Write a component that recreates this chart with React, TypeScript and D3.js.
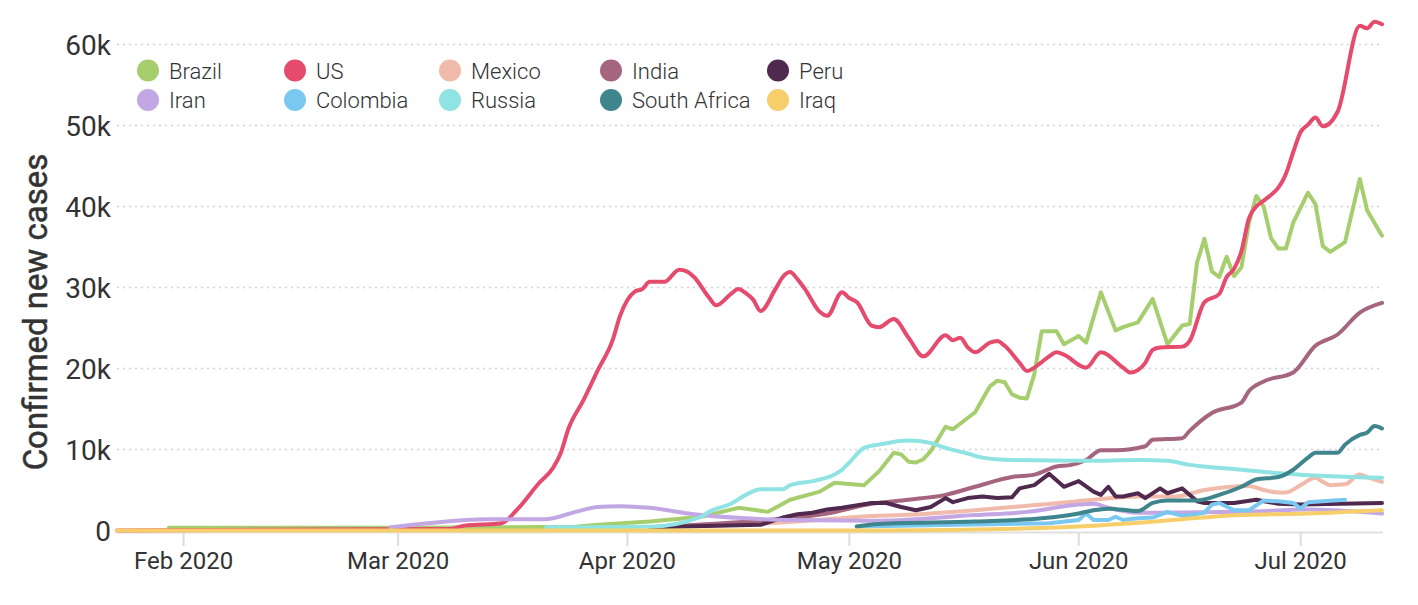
import React, { useRef, useEffect } from 'react';
import * as d3 from 'd3';

type Point = [string, number];

const countries = ['Brazil', 'US', 'Mexico', 'India', 'Peru', 'Iran', 'Colombia', 'Russia', 'South Africa', 'Iraq'];

const brazil: Point[] = [
    ['2020-01-30', 350], ['2020-03-01', 350], ['2020-03-25', 450], ['2020-03-28', 700], ['2020-04-04', 1100],
    ['2020-04-11', 1700], ['2020-04-16', 2800], ['2020-04-20', 2300], ['2020-04-23', 3800], ['2020-04-27', 4800],
    ['2020-04-29', 5900], ['2020-05-03', 5600], ['2020-05-05', 7300], ['2020-05-07', 9600], ['2020-05-08', 9400],
    ['2020-05-09', 8500], ['2020-05-10', 8400], ['2020-05-11', 8800], ['2020-05-12', 9800], ['2020-05-13', 11300],
    ['2020-05-14', 12800], ['2020-05-15', 12500], ['2020-05-18', 14600], ['2020-05-20', 17800], ['2020-05-21', 18500],
    ['2020-05-22', 18300], ['2020-05-23', 16800], ['2020-05-24', 16400], ['2020-05-25', 16300], ['2020-05-26', 19300],
    ['2020-05-27', 24600], ['2020-05-29', 24600], ['2020-05-30', 23000], ['2020-06-01', 24000], ['2020-06-02', 23200],
    ['2020-06-04', 29400], ['2020-06-06', 24700], ['2020-06-07', 25100], ['2020-06-09', 25700], ['2020-06-11', 28600],
    ['2020-06-13', 23000], ['2020-06-15', 25300], ['2020-06-16', 25500], ['2020-06-17', 33100], ['2020-06-18', 36000],
    ['2020-06-19', 32000], ['2020-06-20', 31300], ['2020-06-21', 33800], ['2020-06-22', 31400], ['2020-06-23', 32500],
    ['2020-06-24', 37900], ['2020-06-25', 41300], ['2020-06-26', 40000], ['2020-06-27', 36100], ['2020-06-28', 34800],
    ['2020-06-29', 34800], ['2020-06-30', 38000], ['2020-07-02', 41700], ['2020-07-03', 40300], ['2020-07-04', 35100],
    ['2020-07-05', 34400], ['2020-07-07', 35600], ['2020-07-09', 43400], ['2020-07-10', 39500], ['2020-07-12', 36400],
];

const us: Point[] = [
    ['2020-01-23', 0], ['2020-03-08', 200], ['2020-03-10', 600], ['2020-03-15', 900], ['2020-03-17', 2500],
    ['2020-03-20', 5800], ['2020-03-22', 7800], ['2020-03-23', 9600], ['2020-03-24', 12500], ['2020-03-26', 16000],
    ['2020-03-28', 19800], ['2020-03-30', 23500], ['2020-03-31', 26500], ['2020-04-02', 29500], ['2020-04-03', 29800],
    ['2020-04-04', 30700], ['2020-04-06', 30700], ['2020-04-08', 32200], ['2020-04-09', 32000], ['2020-04-10', 31300],
    ['2020-04-12', 28800], ['2020-04-13', 27800], ['2020-04-15', 29200], ['2020-04-16', 29800], ['2020-04-17', 29300],
    ['2020-04-18', 28500], ['2020-04-19', 27100], ['2020-04-21', 29800], ['2020-04-22', 31300], ['2020-04-23', 31900],
    ['2020-04-24', 31000], ['2020-04-25', 29800], ['2020-04-27', 27000], ['2020-04-28', 26500], ['2020-04-30', 29400],
    ['2020-05-01', 28700], ['2020-05-02', 28200], ['2020-05-04', 25300], ['2020-05-05', 25100], ['2020-05-07', 26100],
    ['2020-05-09', 23800], ['2020-05-11', 21500], ['2020-05-14', 24100], ['2020-05-15', 23500], ['2020-05-16', 23800],
    ['2020-05-17', 22600], ['2020-05-18', 22000], ['2020-05-20', 23200], ['2020-05-21', 23400], ['2020-05-22', 22800],
    ['2020-05-24', 20700], ['2020-05-25', 19700], ['2020-05-27', 20800], ['2020-05-28', 21500], ['2020-05-29', 22000],
    ['2020-05-30', 21700], ['2020-06-02', 20100], ['2020-06-04', 22000], ['2020-06-07', 20100], ['2020-06-08', 19500],
    ['2020-06-09', 19800], ['2020-06-10', 20700], ['2020-06-11', 22300], ['2020-06-12', 22600], ['2020-06-15', 22700],
    ['2020-06-16', 23400], ['2020-06-18', 28200], ['2020-06-20', 29200], ['2020-06-21', 31300], ['2020-06-22', 32300],
    ['2020-06-23', 34500], ['2020-06-24', 38500], ['2020-06-25', 40000], ['2020-06-26', 40700], ['2020-06-29', 44000],
    ['2020-06-30', 46700], ['2020-07-01', 49200], ['2020-07-02', 50100], ['2020-07-03', 51000], ['2020-07-04', 49900],
    ['2020-07-06', 51700], ['2020-07-09', 62300], ['2020-07-10', 62000], ['2020-07-11', 62800], ['2020-07-12', 62500],
];

const mexico: Point[] = [
    ['2020-04-04', 400], ['2020-04-20', 900], ['2020-04-28', 1400], ['2020-05-04', 1800], ['2020-05-08', 1900],
    ['2020-05-18', 2500], ['2020-05-27', 3200], ['2020-06-03', 3800], ['2020-06-09', 4200], ['2020-06-14', 4200],
    ['2020-06-18', 5000], ['2020-06-24', 5500], ['2020-06-26', 5000], ['2020-06-28', 4700], ['2020-06-29', 4700],
    ['2020-07-01', 5600], ['2020-07-03', 6500], ['2020-07-04', 6000], ['2020-07-05', 5600], ['2020-07-07', 5700],
    ['2020-07-09', 6900], ['2020-07-10', 6600], ['2020-07-12', 6000],
];

const india: Point[] = [
    ['2020-04-04', 400], ['2020-04-20', 1300], ['2020-04-28', 2100], ['2020-05-04', 3300], ['2020-05-09', 3800],
    ['2020-05-14', 4400], ['2020-05-18', 5400], ['2020-05-23', 6600], ['2020-05-26', 6900], ['2020-05-29', 7900],
    ['2020-05-31', 8100], ['2020-06-02', 8700], ['2020-06-04', 9900], ['2020-06-06', 9900], ['2020-06-10', 10400],
    ['2020-06-11', 11200], ['2020-06-15', 11400], ['2020-06-16', 12300], ['2020-06-19', 14500], ['2020-06-23', 15800],
    ['2020-06-24', 17200], ['2020-06-26', 18400], ['2020-06-30', 19500], ['2020-07-03', 22800], ['2020-07-06', 24200],
    ['2020-07-09', 26900], ['2020-07-12', 28100],
];

const peru: Point[] = [
    ['2020-04-04', 400], ['2020-04-19', 700], ['2020-04-22', 1600], ['2020-04-24', 2000], ['2020-04-26', 2200],
    ['2020-04-28', 2600], ['2020-04-30', 2800], ['2020-05-04', 3400], ['2020-05-06', 3400], ['2020-05-08', 2900],
    ['2020-05-10', 2500], ['2020-05-12', 2900], ['2020-05-14', 4000], ['2020-05-15', 3500], ['2020-05-17', 4000],
    ['2020-05-19', 4200], ['2020-05-21', 4000], ['2020-05-23', 4100], ['2020-05-24', 5200], ['2020-05-26', 5600],
    ['2020-05-28', 7000], ['2020-05-30', 5400], ['2020-06-01', 6100], ['2020-06-03', 4800], ['2020-06-04', 4400],
    ['2020-06-05', 5400], ['2020-06-06', 4200], ['2020-06-07', 4200], ['2020-06-09', 4600], ['2020-06-10', 4000],
    ['2020-06-12', 5200], ['2020-06-13', 4600], ['2020-06-15', 5200], ['2020-06-17', 3600], ['2020-06-18', 3400],
    ['2020-06-22', 3400], ['2020-06-25', 3800], ['2020-06-28', 3300], ['2020-07-01', 3200], ['2020-07-12', 3400],
];

const iran: Point[] = [
    ['2020-02-29', 400], ['2020-03-05', 900], ['2020-03-13', 1400], ['2020-03-21', 1400], ['2020-03-25', 2300],
    ['2020-03-28', 2900], ['2020-03-31', 3000], ['2020-04-04', 2800], ['2020-04-10', 2000], ['2020-04-17', 1500],
    ['2020-04-23', 1300], ['2020-05-05', 1200], ['2020-05-18', 1900], ['2020-05-25', 2300], ['2020-06-01', 3200],
    ['2020-06-03', 3300], ['2020-06-05', 2800], ['2020-06-09', 2200], ['2020-06-23', 2300], ['2020-07-02', 2600],
    ['2020-07-12', 2100],
];

const colombia: Point[] = [
    ['2020-05-02', 500], ['2020-05-28', 900], ['2020-06-01', 1300], ['2020-06-02', 2100], ['2020-06-03', 1300],
    ['2020-06-05', 1300], ['2020-06-06', 1700], ['2020-06-07', 1300], ['2020-06-09', 1500], ['2020-06-11', 1600],
    ['2020-06-13', 2300], ['2020-06-15', 1800], ['2020-06-16', 1900], ['2020-06-18', 2200], ['2020-06-19', 3200],
    ['2020-06-20', 3400], ['2020-06-22', 2500], ['2020-06-24', 2500], ['2020-06-26', 3700], ['2020-06-28', 3600],
    ['2020-06-30', 3400], ['2020-07-01', 2700], ['2020-07-02', 3500], ['2020-07-07', 3800],
];

const russia: Point[] = [
    ['2020-03-21', 400], ['2020-04-04', 450], ['2020-04-11', 1700], ['2020-04-12', 2300], ['2020-04-15', 3300],
    ['2020-04-17', 4400], ['2020-04-19', 5100], ['2020-04-22', 5100], ['2020-04-23', 5600], ['2020-04-26', 6100],
    ['2020-04-29', 6900], ['2020-04-30', 7500], ['2020-05-01', 8400], ['2020-05-03', 10200], ['2020-05-05', 10600],
    ['2020-05-09', 11100], ['2020-05-12', 10800], ['2020-05-14', 10200], ['2020-05-17', 9500], ['2020-05-19', 9000],
    ['2020-05-23', 8700], ['2020-06-02', 8600], ['2020-06-09', 8700], ['2020-06-13', 8600], ['2020-06-16', 8100],
    ['2020-06-18', 7900], ['2020-06-23', 7500], ['2020-06-29', 7000], ['2020-07-12', 6500],
];

const southAfrica: Point[] = [
    ['2020-05-02', 500], ['2020-05-05', 800], ['2020-05-18', 1100], ['2020-05-27', 1500], ['2020-06-01', 2100],
    ['2020-06-03', 2500], ['2020-06-05', 2700], ['2020-06-09', 2400], ['2020-06-11', 3400], ['2020-06-13', 3700],
    ['2020-06-17', 3700], ['2020-06-20', 4400], ['2020-06-23', 5400], ['2020-06-25', 6300], ['2020-06-28', 6600],
    ['2020-06-30', 7500], ['2020-07-02', 9000], ['2020-07-03', 9600], ['2020-07-06', 9600], ['2020-07-07', 10600],
    ['2020-07-09', 11800], ['2020-07-10', 12100], ['2020-07-11', 12900], ['2020-07-12', 12600],
];

const iraq: Point[] = [
    ['2020-01-23', 0], ['2020-05-05', 0], ['2020-05-27', 300], ['2020-06-01', 500], ['2020-06-09', 950],
    ['2020-06-23', 1900], ['2020-07-02', 2100], ['2020-07-12', 2500],
];

const seriesValues = [brazil, us, mexico, india, peru, iran, colombia, russia, southAfrica, iraq];

const yTicks = [0, 10000, 20000, 30000, 40000, 50000, 60000];
const yTickLabels = ['0', '10k', '20k', '30k', '40k', '50k', '60k'];
const monthTicks = ['2020-02-01', '2020-03-01', '2020-04-01', '2020-05-01', '2020-06-01', '2020-07-01'];
const monthLabels = ['Feb 2020', 'Mar 2020', 'Apr 2020', 'May 2020', 'Jun 2020', 'Jul 2020'];
const dateRange = ['2020-01-23', '2020-07-12'];

const palette = ['#a7ce6e', '#e54b6d', '#f0bbab', '#a6657f', '#50294f', '#c3a7e4', '#7ac8f1', '#8fe3e2', '#3e858d', '#f6cf6b'];
// jagged series are drawn straight, the rest smoothed
const jagged = [true, false, false, false, true, false, true, false, false, false];
const legendColumnX = [148, 295, 450, 611, 778];

const ChartSvg: React.FC = () => {
    const svgRef = useRef<SVGSVGElement | null>(null);
    const width = 1418;
    const height = 605;
    const font = 'Roboto, "Noto Sans", sans-serif';

    useEffect(() => {
        if (!svgRef.current) return;
        const svg = d3.select(svgRef.current);
        svg.selectAll('*').remove();

        const parse = d3.timeParse('%Y-%m-%d');
        const x = d3.scaleTime()
            .domain(dateRange.map(d => parse(d) as Date))
            .range([117, 1382]);
        const y = d3.scaleLinear()
            .domain([0, 60000])
            .range([530.5, 44.5]);

        svg.append('rect').attr('width', width).attr('height', height).attr('fill', '#fff');

        // dotted grid
        svg.append('g')
            .selectAll('line')
            .data(yTicks.filter(t => t > 0))
            .join('line')
            .attr('x1', 117)
            .attr('x2', 1383)
            .attr('y1', d => y(d))
            .attr('y2', d => y(d))
            .attr('stroke', '#d4d4d4')
            .attr('stroke-width', 1.5)
            .attr('stroke-dasharray', '2,4');

        // y labels
        svg.append('g')
            .selectAll('text')
            .data(yTicks)
            .join('text')
            .attr('x', 111)
            .attr('y', d => y(d) + 10)
            .attr('text-anchor', 'end')
            .attr('font-family', font)
            .attr('font-size', 28)
            .attr('fill', '#333')
            .text((d, i) => yTickLabels[i]);

        // x axis baseline and ticks
        svg.append('line')
            .attr('x1', 117).attr('x2', 1383)
            .attr('y1', 532.5).attr('y2', 532.5)
            .attr('stroke', '#e0e0e0').attr('stroke-width', 2);

        const months = monthTicks.map(d => parse(d) as Date);
        svg.append('g')
            .selectAll('line')
            .data(months)
            .join('line')
            .attr('x1', d => x(d)).attr('x2', d => x(d))
            .attr('y1', 533).attr('y2', 546)
            .attr('stroke', '#dcdcdc').attr('stroke-width', 2);

        svg.append('g')
            .selectAll('text')
            .data(months)
            .join('text')
            .attr('x', d => x(d))
            .attr('y', 569)
            .attr('text-anchor', 'middle')
            .attr('font-family', font)
            .attr('font-size', 24)
            .attr('fill', '#333')
            .text((d, i) => monthLabels[i]);

        // y title
        svg.append('text')
            .attr('transform', 'translate(47,312) rotate(-90)')
            .attr('text-anchor', 'middle')
            .attr('font-family', font)
            .attr('font-size', 33)
            .attr('font-weight', 400)
            .attr('fill', '#333')
            .attr('stroke', '#333')
            .attr('stroke-width', 0.5)
            .text('Confirmed new cases');

        seriesValues.forEach((values, i) => {
            const line = d3.line<Point>()
                .x(d => x(parse(d[0]) as Date))
                .y(d => y(d[1]))
                .curve(jagged[i] ? d3.curveLinear : d3.curveMonotoneX);
            svg.append('path')
                .datum(values)
                .attr('fill', 'none')
                .attr('stroke', palette[i])
                .attr('stroke-width', 4)
                .attr('stroke-linejoin', 'round')
                .attr('stroke-linecap', 'round')
                .attr('d', line);
        });

        // legend
        const legend = svg.append('g');
        countries.forEach((name, i) => {
            const cx = legendColumnX[i % 5];
            const cy = 70.5 + Math.floor(i / 5) * 29.5;
            legend.append('circle')
                .attr('cx', cx).attr('cy', cy).attr('r', 11)
                .attr('fill', palette[i]);
            legend.append('text')
                .attr('x', cx + 21)
                .attr('y', cy + 8)
                .attr('font-family', font)
                .attr('font-size', 22)
                .attr('font-weight', 300)
                .attr('fill', '#333')
                .text(name);
        });
    }, []);

    return <svg ref={svgRef} width={width} height={height} style={{ position: 'absolute', left: 0, top: 0 }}></svg>;
};

export default function App() {
    return <ChartSvg />;
}
